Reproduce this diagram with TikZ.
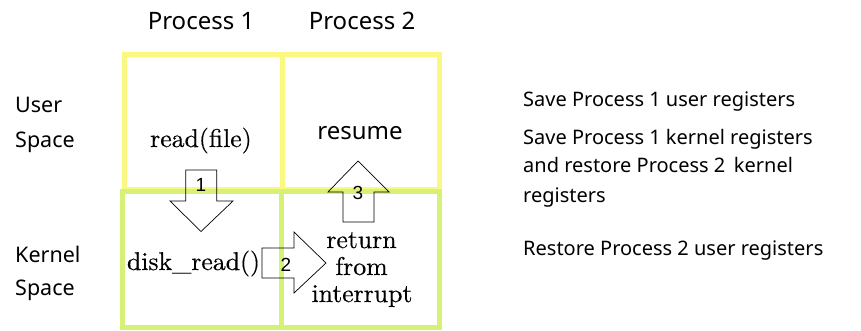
\documentclass[tikz,border=0pt]{standalone}
\usepackage{fontspec}
\newfontfamily\chalk{Noto Sans}
\newfontfamily\arialf{Liberation Sans}
\newfontfamily\schfont{lmroman10-regular.otf}[FakeBold=0.4]
\definecolor{ylw}{RGB}{250,248,128}
\definecolor{grn}{RGB}{214,242,118}
\begin{document}
\begin{tikzpicture}[x=1pt,y=-1pt,
  ylwline/.style={draw=ylw,line width=5pt},
  grnline/.style={draw=grn,line width=5pt},
  blockarrow/.style={draw=black,line width=0.7pt,line join=miter},
  chalktext/.style={inner sep=0pt,font=\chalk\fontsize{20}{24}\selectfont},
  headtext/.style={inner sep=0pt,font=\chalk\fontsize{24}{28}\selectfont},
  sidetext/.style={inner sep=0pt,font=\chalk\fontsize{21.5}{26}\selectfont},
  serif/.style={inner sep=0pt,font=\schfont\fontsize{25.7}{30}\selectfont},
  numtext/.style={inner sep=0pt,font=\arialf\fontsize{19}{22}\selectfont}]
\useasboundingbox (0,0) rectangle (861,331);
% grid
\draw[ylwline] (124.5,55) rectangle (439.5,189);
\draw[ylwline] (282,55) -- (282,189);
\draw[grnline] (122.5,191) rectangle (439.5,327.5);
\draw[grnline] (281,191) -- (281,327.5);
% column and row labels
\node[headtext,anchor=base] (p1) at (201,30) {Process 1};
\node[headtext,anchor=base] (p2) at (362,30) {Process 2};
\node[sidetext,anchor=base west] (us1) at (15,113) {User};
\node[sidetext,anchor=base west] (us2) at (15,148) {Space};
\node[sidetext,anchor=base west] (ks1) at (15,262) {Kernel};
\node[sidetext,anchor=base west] (ks2) at (15,295) {Space};
% cell texts
\node[serif,anchor=base] (rf) at (201,147) {read(file)};
\node[headtext,anchor=base] (rs) at (360,140) {resume};
\node[serif,anchor=base] (dr) at (193.5,270) {disk\_read()};
\node[serif,anchor=base] (rt1) at (361.5,248) {return};
\node[serif,anchor=base] (rt2) at (361.5,275) {from};
\node[serif,anchor=base] (rt3) at (362,302) {interrupt};
% block arrows
\draw[blockarrow] (185.7,170) -- (216.7,170) -- (216.7,201) -- (233,201) -- (201,231.5) -- (170,201) -- (185.7,201) -- cycle;
\node[numtext] (n1) at (201,185) {1};
\draw[blockarrow] (262,248) -- (294,248) -- (294,232) -- (326,263) -- (294,293) -- (294,278) -- (262,278) -- cycle;
\node[numtext] (n2) at (286,264.5) {2};
\draw[blockarrow] (343,222) -- (374,222) -- (374,192) -- (389,192) -- (358,161) -- (328,192) -- (343,192) -- cycle;
\node[numtext] (n3) at (358,192.5) {3};
% right-hand notes
\node[chalktext,anchor=base west] (t1) at (523,107) {Save Process 1 user registers};
\node[chalktext,anchor=base west] (t2) at (523,145) {Save Process 1 kernel registers};
\node[chalktext,anchor=base west] (t3) at (523,173) {and restore Process 2\, kernel};
\node[chalktext,anchor=base west] (t4) at (523,202) {registers};
\node[chalktext,anchor=base west] (t5) at (523,255) {Restore Process 2 user registers};
\end{tikzpicture}
\end{document}
